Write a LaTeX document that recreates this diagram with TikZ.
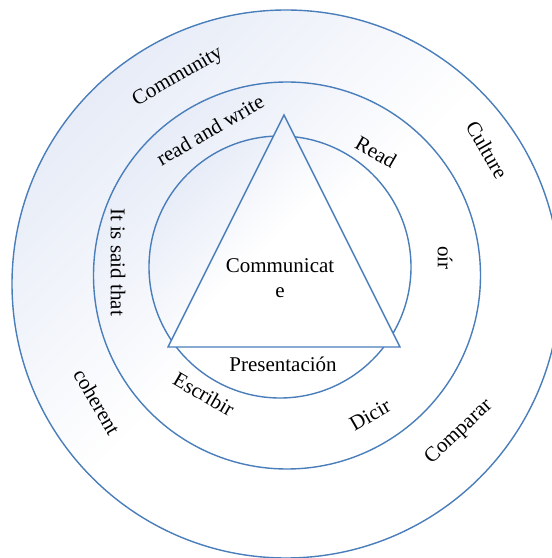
\documentclass[tikz,border=0pt]{standalone}
\usepackage{fontspec}
\setmainfont{Liberation Serif}
\definecolor{ringline}{RGB}{74,126,187}
\definecolor{ringfill}{RGB}{231,236,247}
\begin{document}
\begin{tikzpicture}[x=0.5pt,y=0.5pt,font=\fontsize{10.5pt}{12.5pt}\selectfont]
    \tikzstyle{ring}=[draw=ringline,line width=0.7pt,top color=ringfill,bottom color=white,middle color=white,shading angle=45];
    \tikzstyle{ringtext}=[inner sep=0pt,align=center];

    \useasboundingbox (0,0) rectangle (552,558);

    \coordinate (outerc) at (286,274);
    \coordinate (midc) at (287,282.5);
    \coordinate (innerc) at (280,291);

    \path[ring] (outerc) circle (274);
    \path[ring] (midc) circle (193.5);
    \path[ring] (innerc) circle (131);

    \coordinate (apex) at (284,443);
    \coordinate (baseleft) at (168,211);
    \coordinate (baseright) at (400,211);
    \path[ring] (apex) -- (baseleft) -- (baseright) -- cycle;

    \node[ringtext] (comm) at (280,280) {Communicat\\e};
    \node[ringtext] (pres) at (283,194) {Presentación};

    \node[ringtext,rotate=30] (community) at (178,481) {Community};
    \node[ringtext,rotate=-60] (culture) at (487,408) {Culture};
    \node[ringtext,rotate=-60] (coherent) at (97,156) {coherent};
    \node[ringtext,rotate=43] (comparar) at (459,126) {Comparar};

    \node[ringtext,rotate=30] (readwrite) at (210,428) {read and write};
    \node[ringtext,rotate=-30] (read) at (376,406) {Read};
    \node[ringtext,rotate=-90] (oir) at (445,300) {oír};
    \node[ringtext,rotate=-90] (saidthat) at (118,296) {It is said that};
    \node[ringtext,rotate=-30] (escribir) at (204,164) {Escribir};
    \node[ringtext,rotate=30] (dicir) at (370,143) {Dicir};
\end{tikzpicture}
\end{document}
